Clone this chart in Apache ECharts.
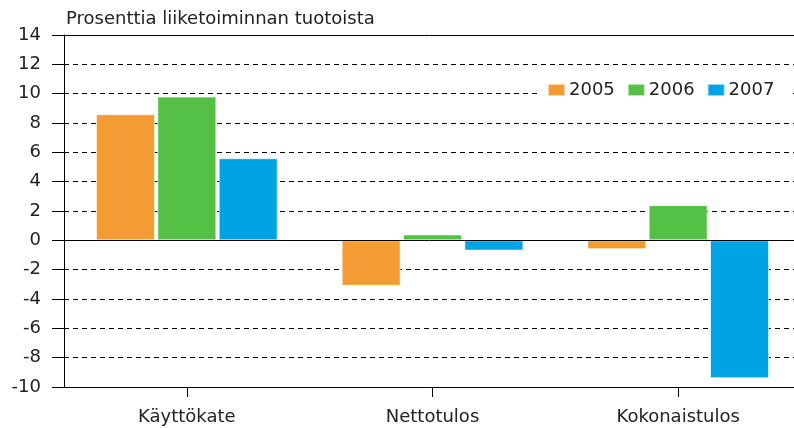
<!DOCTYPE html>
<html>
<head>
<meta charset="utf-8">
<script src="https://cdn.jsdelivr.net/npm/echarts@6/dist/echarts.min.js"></script>
<style>
html,body{margin:0;padding:0;background:#fff;}
#chart{width:794px;height:428px;}
</style>
</head>
<body>
<div id="chart"></div>
<script>
var categories = ['Käyttökate', 'Nettotulos', 'Kokonaistulos'];
var years = ['2005', '2006', '2007'];
var values2005 = [8.6, -3.1, -0.6];
var values2006 = [9.8, 0.4, 2.4];
var values2007 = [5.6, -0.7, -9.4];
var yTicks = [-10, -8, -6, -4, -2, 0, 2, 4, 6, 8, 10, 12, 14];
var yTitle = 'Prosenttia liiketoiminnan tuotoista';

var colors = ['#F39C34', '#55C046', '#00A4E4'];
var font = 'DejaVu Sans';
var allValues = [values2005, values2006, values2007];

var series = years.map(function (y, i) {
  var s = {
    name: y,
    type: 'bar',
    data: allValues[i],
    barWidth: 59,
    barGap: '4%',
    itemStyle: { color: colors[i], borderColor: 'rgba(255,255,255,0.6)', borderWidth: 1 },
    emphasis: { disabled: true }
  };
  if (i === 0) {
    s.markLine = {
      silent: true,
      symbol: 'none',
      label: { show: false },
      lineStyle: { color: '#000', type: 'solid', width: 1 },
      data: [{ yAxis: 0 }, { yAxis: yTicks[yTicks.length - 1] }]
    };
  }
  return s;
});

var chart = echarts.init(document.getElementById('chart'));
chart.setOption({
  animation: false,
  backgroundColor: '#fff',
  title: {
    text: yTitle,
    left: 61,
    top: 5,
    textStyle: { fontFamily: font, fontSize: 18, fontWeight: 'normal', color: '#222' }
  },
  legend: {
    data: years,
    left: 541,
    top: 78,
    width: 232,
    padding: [3, 16, 3, 6],
    backgroundColor: '#fff',
    itemWidth: 17,
    itemHeight: 12,
    itemGap: 12,
    icon: 'rect',
    textStyle: { fontFamily: font, fontSize: 18, color: '#222', padding: [0, 0, 0, -1] }
  },
  grid: {
    left: 64,
    top: 35,
    width: 737,
    height: 352,
    outerBoundsMode: 'none',
    containLabel: false
  },
  xAxis: {
    type: 'category',
    data: categories,
    axisLine: { onZero: false, lineStyle: { color: '#000', width: 1 } },
    axisTick: { show: true, alignWithLabel: true, length: 10, lineStyle: { color: '#000' } },
    axisLabel: { fontFamily: font, fontSize: 18, color: '#222', margin: 21 }
  },
  yAxis: {
    type: 'value',
    min: yTicks[0],
    max: yTicks[yTicks.length - 1],
    interval: 2,
    axisLine: { show: true, lineStyle: { color: '#000', width: 1 } },
    axisTick: { show: true, length: 12, lineStyle: { color: '#000' } },
    axisLabel: { fontFamily: font, fontSize: 18, color: '#222', margin: 23 },
    splitLine: { show: true, lineStyle: { color: '#000', type: [5, 4], width: 1 } }
  },
  series: series
});
</script>
</body>
</html>
